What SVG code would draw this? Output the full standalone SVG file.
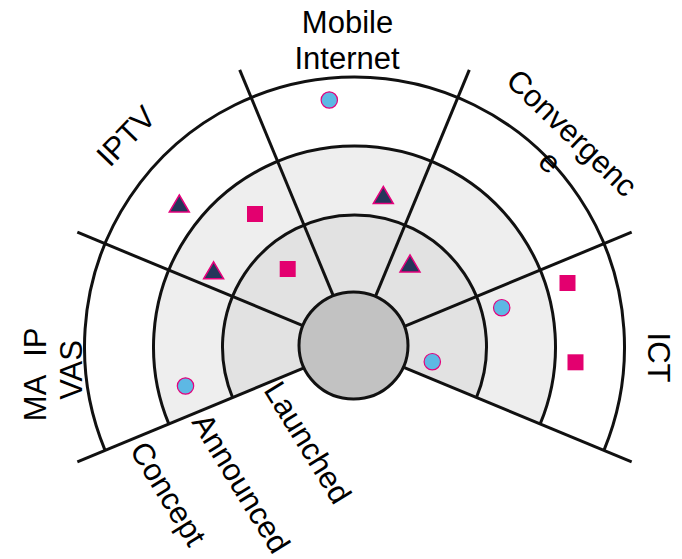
<svg xmlns="http://www.w3.org/2000/svg" xmlns:xlink="http://www.w3.org/1999/xlink" width="682" height="559" viewBox="0 0 682 559">
  <style>
    .ring { stroke: #111; stroke-width: 3; fill: none; }
    .spoke { stroke: #111; stroke-width: 3; stroke-linecap: butt; }
    .lbl { font-family: "Liberation Sans", Arial, Helvetica, sans-serif; font-size: 31px; fill: #000; }
    .dot { fill: #5db8e4; stroke: #e4007c; stroke-width: 1.2; }
    .sq { fill: #e3006f; }
    .tri { fill: #24365a; stroke: #e4007c; stroke-width: 1.5; stroke-linejoin: miter; }
  </style>
  <defs>
    <path id="triangle" d="M0,-8.5 L10,8.5 L-10,8.5 Z"/>
    <rect id="square" x="-8" y="-8" width="16" height="16"/>
    <circle id="bubble" r="8.2"/>
  </defs>
  <rect width="682" height="559" fill="#fff"/>

  <!-- shaded maturity bands, upper 225 degrees only -->
  <g id="bands">
    <path d="M354.5,347 L168.8,423.92 A201,201 0 1 1 540.2,423.92 Z" fill="#eeeeee"/>
    <path d="M354.5,347 L232.55,397.51 A132,132 0 1 1 476.45,397.51 Z" fill="#e2e2e2"/>
  </g>

  <!-- ring boundaries -->
  <g id="rings">
    <path id="ring-concept" class="ring" d="M105.05,450.32 A270,270 0 1 1 603.95,450.32"/>
    <path id="ring-announced" class="ring" d="M168.8,423.92 A201,201 0 1 1 540.2,423.92"/>
    <path id="ring-launched" class="ring" d="M232.55,397.51 A132,132 0 1 1 476.45,397.51"/>
  </g>

  <!-- sector dividers -->
  <g id="connectors">
    <line class="spoke" x1="404.39" y1="326.34" x2="631.66" y2="232.2"/>
    <line class="spoke" x1="375.16" y1="297.11" x2="469.3" y2="69.84"/>
    <line class="spoke" x1="333.84" y1="297.11" x2="239.7" y2="69.84"/>
    <line class="spoke" x1="304.61" y1="326.34" x2="77.34" y2="232.2"/>
    <line class="spoke" x1="304.61" y1="367.66" x2="77.34" y2="461.8"/>
    <line class="spoke" x1="404.39" y1="367.66" x2="631.66" y2="461.8"/>
  </g>

  <!-- hub -->
  <g id="hub">
    <ellipse cx="353.5" cy="345.5" rx="54.5" ry="53.5" fill="#c2c2c2" stroke="#111" stroke-width="3"/>
  </g>

  <!-- plotted items -->
  <g id="items">
    <use xlink:href="#bubble" class="dot" x="329.3" y="100"/>
    <use xlink:href="#bubble" class="dot" x="185.5" y="386"/>
    <use xlink:href="#bubble" class="dot" x="501.7" y="307.7"/>
    <use xlink:href="#bubble" class="dot" x="432.3" y="361.7"/>

    <use xlink:href="#square" class="sq" x="255" y="214"/>
    <use xlink:href="#square" class="sq" x="287.7" y="269"/>
    <use xlink:href="#square" class="sq" x="567.5" y="283"/>
    <use xlink:href="#square" class="sq" x="575.5" y="362.3"/>

    <use xlink:href="#triangle" class="tri" x="179.3" y="203.5"/>
    <use xlink:href="#triangle" class="tri" x="213.6" y="270.3"/>
    <use xlink:href="#triangle" class="tri" x="383.3" y="195"/>
    <use xlink:href="#triangle" class="tri" x="410" y="263.4"/>
  </g>

  <!-- sector titles -->
  <g id="sector-labels" class="lbl">
    <text x="347.5" y="33.3" text-anchor="middle">Mobile</text>
    <text x="347" y="69" text-anchor="middle">Internet</text>
    <text transform="translate(125.7,135.8) rotate(-46)" text-anchor="middle" y="11">IPTV</text>
    <text transform="translate(575,136) rotate(44)" text-anchor="middle">
      <tspan x="0" y="10.5">Convergenc</tspan>
      <tspan x="0" y="46.5">e</tspan>
    </text>
    <text transform="translate(648,357.5) rotate(90)" text-anchor="middle">ICT</text>
    <text transform="translate(46,370) rotate(-90)" text-anchor="middle">
      <tspan x="0" y="0" style="word-spacing:11px">MA IP</tspan>
      <tspan x="0" y="36">VAS</tspan>
    </text>
  </g>

  <!-- ring titles -->
  <g id="ring-labels" class="lbl">
    <text transform="translate(263,390) rotate(58.5)">Launched</text>
    <text transform="translate(191,422) rotate(58.5)">Announced</text>
    <text transform="translate(129,450) rotate(58.5)">Concept</text>
  </g>
</svg>
